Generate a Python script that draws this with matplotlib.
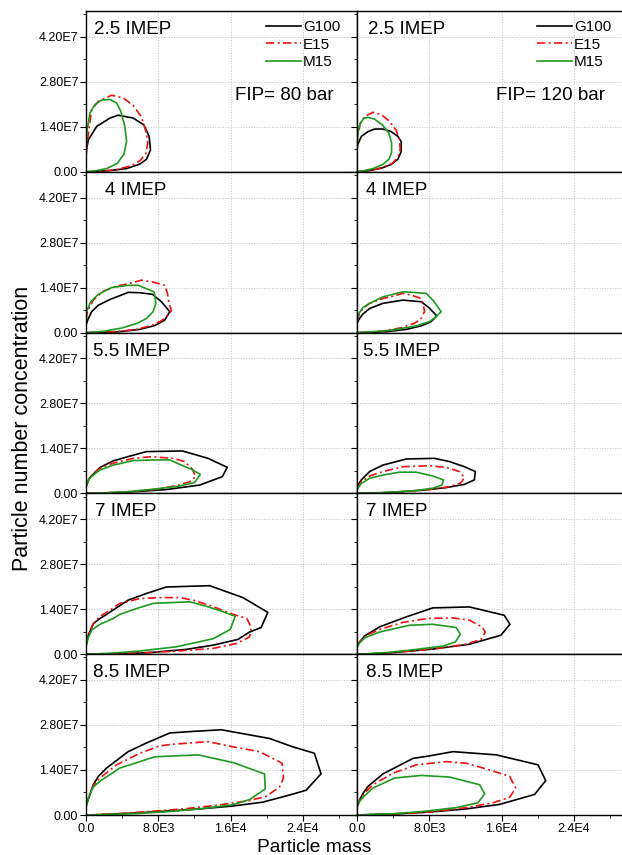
import matplotlib.pyplot as plt
from matplotlib.ticker import MultipleLocator

plt.rcParams['font.family'] = ['Liberation Sans', 'DejaVu Sans']

loads = ['2.5 IMEP', '4 IMEP', '5.5 IMEP', '7 IMEP', '8.5 IMEP']
pressures = ['FIP= 80 bar', 'FIP= 120 bar']
fuels = ['G100', 'E15', 'M15']
x_ticks = [0, 8000, 16000, 24000]
x_tick_labels = ['0.0', '8.0E3', '1.6E4', '2.4E4']
y_ticks = [0, 1.4e7, 2.8e7, 4.2e7]
y_tick_labels = ['0.00', '1.40E7', '2.80E7', '4.20E7']

# ---- FIP 80 bar ----
g100_80_25_x = [0, 258, 1180, 2650, 3570, 5230, 6400, 6990, 7140, 6700, 5960, 4490, 2650, 1180, 0]
g100_80_25_y = [6.3e6, 9.9e6, 1.41e7, 1.67e7, 1.76e7, 1.67e7, 1.46e7, 1.10e7, 6.8e6, 3.9e6, 2.4e6, 1.0e6, 4e5, 1e5, 0]
e15_80_25_x = [0, 258, 625, 1360, 2830, 4120, 5230, 6150, 6700, 6840, 6620, 5960, 5040, 3570, 1910, 0]
e15_80_25_y = [4.7e6, 1.2e7, 1.93e7, 2.19e7, 2.38e7, 2.30e7, 2.06e7, 1.70e7, 1.20e7, 8.9e6, 5.7e6, 3.4e6, 1.9e6, 8e5, 2e5, 0]
m15_80_25_x = [0, 70, 440, 990, 1730, 2650, 3390, 3860, 4300, 4490, 4200, 3460, 2280, 990, 0]
m15_80_25_y = [5.7e6, 1.2e7, 1.83e7, 2.09e7, 2.23e7, 2.25e7, 2.14e7, 1.88e7, 1.41e7, 9.4e6, 5.5e6, 2.6e6, 1.0e6, 3e5, 0]

g100_80_40_x = [0, 260, 625, 1360, 2650, 4670, 5960, 7360, 8350, 9270, 8720, 7620, 5960, 3750, 1550, 0]
g100_80_40_y = [2.4e6, 4.4e6, 6.5e6, 8.5e6, 1.03e7, 1.25e7, 1.24e7, 1.19e7, 9.6e6, 6.5e6, 3.9e6, 2.2e6, 1.0e6, 3e5, 0, 0]
e15_80_40_x = [0, 150, 810, 1910, 3390, 4670, 6150, 7430, 8720, 9020, 9200, 9460, 9090, 8350, 7250, 5590, 3390, 0]
e15_80_40_y = [3.9e6, 6.5e6, 1.01e7, 1.29e7, 1.44e7, 1.52e7, 1.63e7, 1.57e7, 1.47e7, 1.22e7, 9.1e6, 6.8e6, 5.5e6, 3.7e6, 2.2e6, 1.0e6, 3e5, 0]
m15_80_40_x = [0, 150, 520, 1360, 2830, 4670, 5780, 7510, 7620, 7730, 7430, 6700, 5670, 3940, 1910, 0]
m15_80_40_y = [6.0e6, 7.0e6, 9.6e6, 1.19e7, 1.40e7, 1.47e7, 1.47e7, 1.27e7, 1.16e7, 9.1e6, 6.5e6, 4.4e6, 2.9e6, 1.4e6, 4e5, 0]

g100_80_55_x = [0, 370, 810, 1550, 3020, 4860, 6700, 10670, 13510, 15640, 15090, 12590, 8910, 5230, 1550, 0]
g100_80_55_y = [2.1e6, 4.7e6, 6.0e6, 8.1e6, 1.01e7, 1.16e7, 1.30e7, 1.32e7, 1.09e7, 8.1e6, 5.2e6, 2.6e6, 1.2e6, 5e5, 1e5, 0]
e15_80_55_x = [0, 370, 880, 1730, 3020, 5230, 7250, 9640, 10930, 11780, 12140, 11480, 10010, 7430, 4490, 1550, 0]
e15_80_55_y = [2.1e6, 4.7e6, 6.4e6, 8.1e6, 9.4e6, 1.09e7, 1.14e7, 1.09e7, 9.9e6, 7.5e6, 5.2e6, 3.6e6, 2.4e6, 1.2e6, 5e5, 1e5, 0]
m15_80_55_x = [0, 260, 810, 1550, 3020, 5230, 7620, 9270, 10560, 11670, 12660, 12030, 10380, 7800, 4490, 1550, 0]
m15_80_55_y = [1.9e6, 4.2e6, 5.7e6, 7.3e6, 8.8e6, 1.02e7, 1.04e7, 1.04e7, 8.8e6, 7.5e6, 5.9e6, 3.4e6, 2.3e6, 1.4e6, 5e5, 1e5, 0]

g100_80_70_x = [0, 260, 810, 1550, 2280, 4670, 6700, 8910, 13690, 17370, 20130, 19390, 18110, 16820, 14060, 11110, 7070, 3390, 0]
g100_80_70_y = [2.8e6, 5.9e6, 9.5e6, 1.11e7, 1.24e7, 1.68e7, 1.89e7, 2.09e7, 2.13e7, 1.76e7, 1.30e7, 8.3e6, 6.9e6, 4.6e6, 2.8e6, 1.5e6, 5e5, 1e5, 0]
e15_80_70_x = [0, 290, 810, 1550, 2650, 3750, 5960, 8170, 10380, 11850, 13690, 16270, 17810, 18290, 18110, 16630, 14060, 9640, 5230, 1550, 0]
e15_80_70_y = [2.8e6, 6.4e6, 9.5e6, 1.18e7, 1.37e7, 1.58e7, 1.73e7, 1.76e7, 1.76e7, 1.68e7, 1.52e7, 1.24e7, 1.11e7, 8.3e6, 5.4e6, 3.3e6, 1.8e6, 9e5, 3e5, 1e5, 0]
m15_80_70_x = [0, 220, 625, 1550, 3020, 3750, 5590, 7430, 11480, 13320, 14980, 16520, 15970, 14060, 10010, 5960, 2650, 0]
m15_80_70_y = [2.3e6, 4.9e6, 7.5e6, 9.3e6, 1.11e7, 1.24e7, 1.42e7, 1.58e7, 1.63e7, 1.49e7, 1.34e7, 1.18e7, 7.7e6, 4.8e6, 2.3e6, 1.0e6, 3e5, 0]

g100_80_85_x = [0, 370, 810, 1360, 2280, 4670, 6700, 9270, 11850, 14980, 17740, 20310, 22890, 25280, 26020, 24360, 22520, 19580, 16270, 12590, 8910, 5230, 1550, 0]
g100_80_85_y = [2.8e6, 5.8e6, 9.4e6, 1.20e7, 1.46e7, 1.97e7, 2.24e7, 2.55e7, 2.60e7, 2.65e7, 2.51e7, 2.38e7, 2.12e7, 1.92e7, 1.28e7, 7.7e6, 6.2e6, 4.0e6, 2.8e6, 1.9e6, 1.2e6, 6e5, 1e5, 0]
e15_80_85_x = [0, 370, 880, 1550, 3390, 5960, 8170, 9640, 13510, 16270, 19210, 21710, 21860, 21420, 19950, 18110, 14430, 10750, 7070, 3390, 0]
e15_80_85_y = [2.8e6, 6.4e6, 9.4e6, 1.15e7, 1.56e7, 1.92e7, 2.15e7, 2.20e7, 2.28e7, 2.12e7, 1.97e7, 1.61e7, 1.15e7, 8.7e6, 5.8e6, 4.5e6, 3.0e6, 1.9e6, 1.1e6, 4e5, 0]
m15_80_85_x = [0, 260, 810, 1550, 3750, 7620, 12400, 16270, 19760, 19840, 18110, 16270, 12590, 8910, 5230, 0]
m15_80_85_y = [2.3e6, 5.3e6, 8.7e6, 1.05e7, 1.46e7, 1.81e7, 1.87e7, 1.63e7, 1.28e7, 8.1e6, 4.8e6, 3.2e6, 1.9e6, 1.0e6, 4e5, 0]

# ---- FIP 120 bar ----
g100_120_25_x = [0, 70, 480, 1210, 1950, 2870, 3790, 4530, 4890, 4890, 4530, 3790, 2690, 1400, 0]
g100_120_25_y = [6.8e6, 8.4e6, 1.10e7, 1.25e7, 1.33e7, 1.33e7, 1.25e7, 1.10e7, 9.4e6, 6.3e6, 3.9e6, 2.3e6, 1.1e6, 4e5, 0]
e15_120_25_x = [0, 150, 370, 850, 1770, 2690, 3610, 4340, 4710, 4780, 4530, 3900, 2870, 1580, 0]
e15_120_25_y = [7.8e6, 1.2e7, 1.52e7, 1.72e7, 1.85e7, 1.78e7, 1.57e7, 1.29e7, 9.9e6, 6.8e6, 4.5e6, 2.6e6, 1.4e6, 5e5, 0]
m15_120_25_x = [0, 110, 290, 740, 1210, 1950, 2870, 3530, 3830, 3830, 3530, 2870, 1770, 660, 0]
m15_120_25_y = [7.8e6, 1.2e7, 1.46e7, 1.66e7, 1.69e7, 1.64e7, 1.44e7, 1.20e7, 8.9e6, 6.0e6, 3.9e6, 2.3e6, 1.0e6, 3e5, 0]

g100_120_40_x = [0, 290, 660, 1400, 2870, 5080, 7100, 7950, 8830, 8210, 7100, 5450, 3240, 1030, 0]
g100_120_40_y = [2.9e6, 4.4e6, 5.8e6, 7.5e6, 9.1e6, 1.01e7, 9.6e6, 7.8e6, 5.2e6, 3.4e6, 2.1e6, 1.0e6, 3e5, 0, 0]
e15_120_40_x = [0, 220, 660, 1400, 2870, 3970, 5080, 6180, 7100, 7360, 7470, 7100, 6370, 4890, 2870, 1030, 0]
e15_120_40_y = [3.4e6, 5.5e6, 7.5e6, 9.1e6, 1.06e7, 1.13e7, 1.22e7, 1.15e7, 1.06e7, 8.5e6, 6.5e6, 4.4e6, 2.9e6, 1.5e6, 5e5, 1e5, 0]
m15_120_40_x = [0, 220, 660, 1400, 2870, 5080, 7650, 8460, 9310, 8760, 8020, 6550, 3970, 1400, 0]
m15_120_40_y = [3.9e6, 6.0e6, 7.8e6, 9.1e6, 1.11e7, 1.27e7, 1.22e7, 9.9e6, 6.5e6, 4.9e6, 3.4e6, 2.1e6, 8e5, 2e5, 0]

g100_120_55_x = [0, 480, 1400, 2870, 5450, 8570, 10230, 11890, 13100, 12990, 11890, 9860, 7290, 4710, 2130, 0]
g100_120_55_y = [2.1e6, 4.2e6, 6.8e6, 8.8e6, 1.07e7, 1.09e7, 9.9e6, 8.3e6, 6.8e6, 4.2e6, 2.8e6, 1.8e6, 1.0e6, 5e5, 1e5, 0]
e15_120_55_x = [0, 480, 1400, 2870, 5080, 8020, 9860, 11330, 11890, 11520, 10230, 8020, 5080, 2130, 0]
e15_120_55_y = [1.6e6, 3.6e6, 5.4e6, 6.8e6, 8.3e6, 8.6e6, 8.1e6, 6.8e6, 4.9e6, 3.3e6, 2.1e6, 1.2e6, 5e5, 1e5, 0]
m15_120_55_x = [0, 480, 1400, 2870, 4710, 6550, 8390, 9570, 9420, 8390, 6550, 3970, 1400, 0]
m15_120_55_y = [1.2e6, 3.1e6, 4.7e6, 5.7e6, 6.6e6, 6.6e6, 5.4e6, 4.2e6, 2.6e6, 1.6e6, 9e5, 4e5, 1e5, 0]

g100_120_70_x = [0, 290, 850, 2500, 5450, 8390, 12440, 16300, 16930, 15930, 12440, 8390, 3970, 1400, 0]
g100_120_70_y = [2.3e6, 3.8e6, 5.7e6, 8.5e6, 1.16e7, 1.44e7, 1.47e7, 1.21e7, 9.3e6, 5.9e6, 3.1e6, 1.6e6, 5e5, 1e5, 0]
e15_120_70_x = [0, 290, 850, 2500, 5080, 7840, 10600, 12440, 13840, 14200, 13720, 12070, 8390, 3970, 1400, 0]
e15_120_70_y = [2.5e6, 3.8e6, 5.6e6, 7.7e6, 9.9e6, 1.11e7, 1.13e7, 1.06e7, 8.5e6, 6.9e6, 4.6e6, 3.1e6, 1.6e6, 5e5, 1e5, 0]
m15_120_70_x = [0, 290, 850, 2500, 5810, 8390, 10970, 11440, 10890, 9490, 6550, 3610, 1030, 0]
m15_120_70_y = [2.1e6, 3.5e6, 5.1e6, 6.9e6, 9.0e6, 9.3e6, 8.3e6, 6.2e6, 3.8e6, 2.5e6, 1.5e6, 6e5, 1e5, 0]

g100_120_85_x = [0, 300, 660, 1220, 2880, 6200, 7860, 10630, 15420, 20040, 20890, 19670, 15790, 12100, 8410, 4720, 0]
g100_120_85_y = [2.8e6, 4.8e6, 6.7e6, 8.9e6, 1.28e7, 1.76e7, 1.83e7, 1.97e7, 1.87e7, 1.56e7, 1.07e7, 6.4e6, 3.3e6, 1.9e6, 1.0e6, 4e5, 0]
e15_120_85_x = [0, 300, 850, 1770, 3990, 6570, 9890, 12100, 14690, 16900, 17560, 16900, 15060, 12100, 8410, 4720, 0]
e15_120_85_y = [2.8e6, 4.6e6, 6.9e6, 9.4e6, 1.30e7, 1.56e7, 1.66e7, 1.61e7, 1.40e7, 1.20e7, 8.4e6, 5.5e6, 3.8e6, 2.3e6, 1.0e6, 4e5, 0]
m15_120_85_x = [0, 300, 850, 1770, 4170, 7120, 10260, 13580, 14130, 13400, 11000, 7310, 3990, 0]
m15_120_85_y = [2.3e6, 4.3e6, 6.0e6, 8.4e6, 1.15e7, 1.23e7, 1.18e7, 9.4e6, 6.6e6, 3.8e6, 2.3e6, 1.1e6, 4e5, 0]

curves = {
    0: [[(g100_80_25_x, g100_80_25_y), (e15_80_25_x, e15_80_25_y), (m15_80_25_x, m15_80_25_y)],
        [(g100_80_40_x, g100_80_40_y), (e15_80_40_x, e15_80_40_y), (m15_80_40_x, m15_80_40_y)],
        [(g100_80_55_x, g100_80_55_y), (e15_80_55_x, e15_80_55_y), (m15_80_55_x, m15_80_55_y)],
        [(g100_80_70_x, g100_80_70_y), (e15_80_70_x, e15_80_70_y), (m15_80_70_x, m15_80_70_y)],
        [(g100_80_85_x, g100_80_85_y), (e15_80_85_x, e15_80_85_y), (m15_80_85_x, m15_80_85_y)]],
    1: [[(g100_120_25_x, g100_120_25_y), (e15_120_25_x, e15_120_25_y), (m15_120_25_x, m15_120_25_y)],
        [(g100_120_40_x, g100_120_40_y), (e15_120_40_x, e15_120_40_y), (m15_120_40_x, m15_120_40_y)],
        [(g100_120_55_x, g100_120_55_y), (e15_120_55_x, e15_120_55_y), (m15_120_55_x, m15_120_55_y)],
        [(g100_120_70_x, g100_120_70_y), (e15_120_70_x, e15_120_70_y), (m15_120_70_x, m15_120_70_y)],
        [(g100_120_85_x, g100_120_85_y), (e15_120_85_x, e15_120_85_y), (m15_120_85_x, m15_120_85_y)]],
}

styles = [dict(color='black', linestyle='-'),
          dict(color='#ee1111', linestyle=(0, (5, 2, 1.2, 2))),
          dict(color='#1f9a1f', linestyle='-')]

W, H = 622, 855
fig = plt.figure(figsize=(W / 100, H / 100), dpi=100)
col_left = [86, 357]
ax_w = 271
row_h = 160.8
top = 11
label_x = [[0.028, 0.07, 0.024, 0.033, 0.024], [0.04, 0.034, 0.023, 0.034, 0.034]]

for i, load in enumerate(loads):
    for j in range(2):
        ax = fig.add_axes([col_left[j] / W, 1 - (top + (i + 1) * row_h) / H, ax_w / W, row_h / H])
        for (x, y), fuel, st in zip(curves[j][i], fuels, styles):
            ax.plot(x, y, lw=1.2, label=fuel, **st)
        ax.set_xlim(0, 30000)
        ax.set_ylim(0, 5.0e7)
        ax.set_xticks(x_ticks)
        ax.set_yticks(y_ticks)
        ax.set_xticklabels(x_tick_labels if i == 4 else [])
        ax.set_yticklabels(y_tick_labels if j == 0 else [])
        ax.xaxis.set_minor_locator(MultipleLocator(4000))
        ax.yaxis.set_minor_locator(MultipleLocator(7e6))
        ax.tick_params(which='major', direction='out', length=4, width=0.8, labelsize=9, pad=1.5)
        ax.tick_params(which='minor', direction='out', length=2, width=0.6)
        ax.grid(True, which='major', linestyle=':', color='#c0c0c0', lw=0.7)
        for s in ax.spines.values():
            s.set_linewidth(1.0)
        ax.text(label_x[j][i], 0.857, load, transform=ax.transAxes, fontsize=13.5, va='baseline')
        if i == 0:
            ax.legend(loc='upper right', bbox_to_anchor=(0.97, 0.995), frameon=False, fontsize=11,
                      handlelength=2.3, handletextpad=0.15, labelspacing=0.22, borderaxespad=0.15)
            ax.text(0.915, 0.447, pressures[j], transform=ax.transAxes, fontsize=13.5, ha='right', va='baseline')

fig.text(23 / W, 1 - 428 / H, 'Particle number concentration', rotation=90, fontsize=15.5, ha='center', va='center')
fig.text(314 / W, 1 - 852 / H, 'Particle mass', fontsize=13.8, ha='center', va='baseline')

fig.savefig('out.png', dpi=100)
